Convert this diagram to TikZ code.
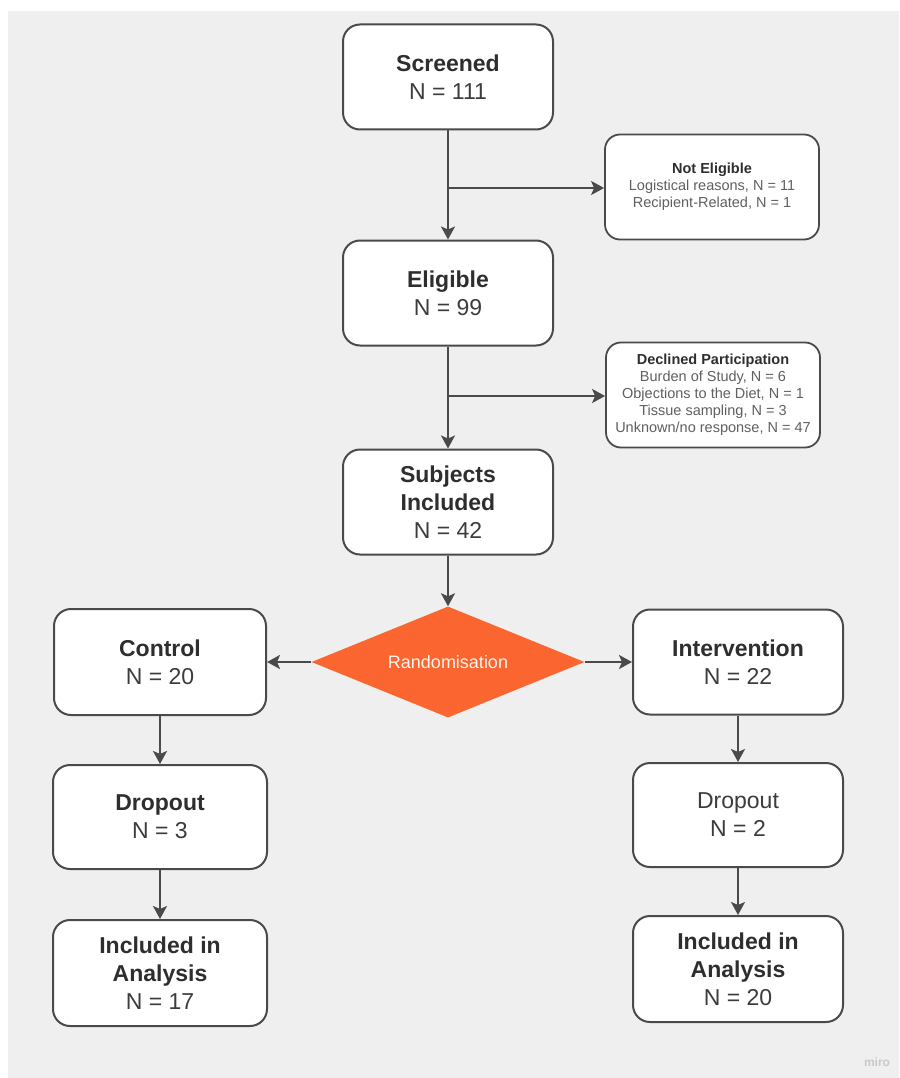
\documentclass[tikz,border=0pt]{standalone}
\usepackage{fontspec}
\setmainfont{Liberation Sans}
\usetikzlibrary{shapes.geometric,arrows.meta}
\definecolor{bggrey}{HTML}{EFEFEF}
\definecolor{edgegrey}{HTML}{4A4A4A}
\definecolor{titlegrey}{HTML}{2E2E2E}
\definecolor{textgrey}{HTML}{3C3C3C}
\definecolor{smallgrey}{HTML}{606060}
\definecolor{randorange}{HTML}{FA6530}
\definecolor{mirogrey}{HTML}{C9C9C9}
\tikzset{
  mainbox/.style={draw=edgegrey, line width=2pt, fill=white, rounded corners=17pt,
    minimum width=210pt, minimum height=105pt, align=center, inner sep=0pt,
    text=textgrey, font=\fontsize{23}{28}\selectfont},
  sidebox/.style={draw=edgegrey, line width=1.8pt, fill=white, rounded corners=15pt,
    minimum width=214pt, minimum height=105pt, align=center, inner sep=0pt,
    text=smallgrey, font=\fontsize{14.5}{17}\selectfont},
  randbox/.style={diamond, fill=randorange, draw=none, inner sep=0pt,
    minimum width=273pt, minimum height=111pt, aspect=2.46,
    text=white!92!orange, font=\fontsize{18}{22}\selectfont},
  flow/.style={draw=edgegrey, line width=2pt, -{Stealth[length=13pt,width=14pt,inset=3pt]}}
}
\newcommand{\bt}[1]{{\bfseries\color{titlegrey}#1}}
\begin{document}
\begin{tikzpicture}[x=1pt,y=-1pt]
\useasboundingbox (0,0) rectangle (899,1078);
\fill[white] (0,0) rectangle (899,1078);
\fill[bggrey] (8,11) rectangle (899,1078);

\node[mainbox] (screened) at (448,77) {\bt{Screened}\\N = 111};
\node[sidebox] (noteligible) at (712,187) {\bt{Not Eligible}\\Logistical reasons, N = 11\\Recipient-Related, N = 1};
\node[mainbox] (eligible) at (448,293) {\bt{Eligible}\\N = 99};
\node[sidebox] (declined) at (713,395) {\bt{Declined Participation}\\Burden of Study, N = 6\\Objections to the Diet, N = 1\\Tissue sampling, N = 3\\Unknown/no response, N = 47};
\node[mainbox] (included) at (448,502) {\bt{Subjects}\\\bt{Included}\\N = 42};
\node[randbox] (rand) at (448,662) {Randomisation};
\node[mainbox, minimum width=212pt, minimum height=106pt] (control) at (160,662) {\bt{Control}\\N = 20};
\node[mainbox] (intervention) at (738,662) {\bt{Intervention}\\N = 22};
\node[mainbox, minimum width=214pt, minimum height=104pt] (dropL) at (160,817) {\bt{Dropout}\\N = 3};
\node[mainbox, minimum width=214pt, minimum height=106pt] (analL) at (160,973) {\bt{Included in}\\\bt{Analysis}\\N = 17};
\node[mainbox, minimum height=104pt] (dropR) at (738,815) {Dropout\\N = 2};
\node[mainbox, minimum height=106pt] (analR) at (738,969) {\bt{Included in}\\\bt{Analysis}\\N = 20};

\coordinate (j1) at (448,188);
\coordinate (j2) at (448,396);

\draw[flow] (screened.south) -- (eligible.north);
\draw[flow] (j1) -- (noteligible.west |- j1);
\draw[flow] (eligible.south) -- (included.north);
\draw[flow] (j2) -- (declined.west |- j2);
\draw[flow] (included.south) -- (rand.north);
\draw[flow] (rand.west) -- (control.east);
\draw[flow] (rand.east) -- (intervention.west);
\draw[flow] (control.south) -- (dropL.north);
\draw[flow] (dropL.south) -- (analL.north);
\draw[flow] (intervention.south) -- (dropR.north);
\draw[flow] (dropR.south) -- (analR.north);

\node[text=mirogrey, font=\bfseries\fontsize{12}{14}\selectfont] (miro) at (877,1062) {miro};
\end{tikzpicture}
\end{document}
